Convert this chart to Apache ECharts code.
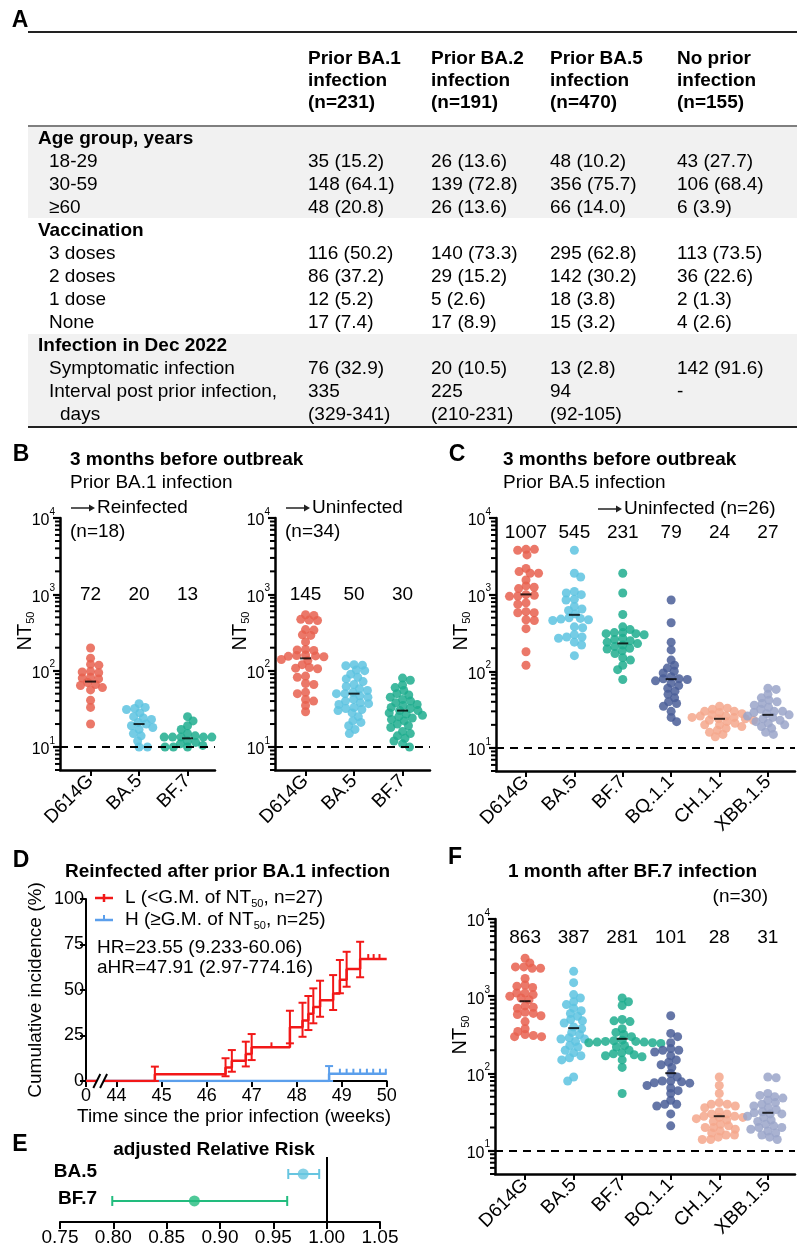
<!DOCTYPE html>
<html><head><meta charset="utf-8">
<script src="https://cdn.jsdelivr.net/npm/echarts@6/dist/echarts.min.js"></script>
<style>html,body{margin:0;padding:0;background:#fff}#c{width:797px;height:1250px}</style>
</head><body><div id="c"></div>
<script>
// ---------------- DATA ----------------
// Panel A table
const colHeads = [['Prior BA.1','infection','(n=231)'],['Prior BA.2','infection','(n=191)'],['Prior BA.5','infection','(n=470)'],['No prior','infection','(n=155)']];
const rowLabels = ['Age group, years','18-29','30-59','≥60','Vaccination','3 doses','2 doses','1 dose','None','Infection in Dec 2022','Symptomatic infection','Interval post prior infection,','days'];
const rowIndent = [0,1,1,1,0,1,1,1,1,0,1,1,2];
const colBA1 = ['','35 (15.2)','148 (64.1)','48 (20.8)','','116 (50.2)','86 (37.2)','12 (5.2)','17 (7.4)','','76 (32.9)','335','(329-341)'];
const colBA2 = ['','26 (13.6)','139 (72.8)','26 (13.6)','','140 (73.3)','29 (15.2)','5 (2.6)','17 (8.9)','','20 (10.5)','225','(210-231)'];
const colBA5 = ['','48 (10.2)','356 (75.7)','66 (14.0)','','295 (62.8)','142 (30.2)','18 (3.8)','15 (3.2)','','13 (2.8)','94','(92-105)'];
const colNone = ['','43 (27.7)','106 (68.4)','6 (3.9)','','113 (73.5)','36 (22.6)','2 (1.3)','4 (2.6)','','142 (91.6)','-',''];

// Panel B
const bCats = ['D614G','BA.5','BF.7'];
const bReD614G = [198,146,121,118,98,96,94,82,80,78,70,66,64,60,56,41,33,20];
const bReBA5 = [37,33,32,31,28,25,24,23,21,20,19,18,17,15,14,12,10,10];
const bReBF7 = [25,22,19,17,15,14,13.5,13.5,13.5,13.5,13.5,12,11.5,11,10.5,10,10,10];
const bReGM = [72,20,13];
const bUnD614G = [540,530,470,460,455,345,340,295,290,238,190,187,184,160,158,156,154,152,140,136,120,110,108,106,85,82,68,66,52,50,42,40,35,29];
const bUnBA5 = [120,118,116,102,100,90,82,78,72,66,62,58,55,52,50,50,47,45,42,40,38,37,36,33,32,31,30,28,25,22,21,19,17,15];
const bUnBF7 = [80,75,65,60,55,50,48,45,42,40,38,36,35,33,32,30,30,28,27,26,25,24,23,22,20,19,18,16,15,14,13,12,11,10];
const bUnGM = [145,50,30];

// Panel C
const cCats = ['D614G','BA.5','BF.7','BQ.1.1','CH.1.1','XBB.1.5'];
const cD614G = [3900,3900,3800,3300,2200,2000,1900,1900,1550,1300,1250,1200,1000,980,960,950,780,750,600,580,580,470,460,360,180,120];
const cBA5 = [3800,1900,1700,1100,1050,1000,870,850,700,650,620,560,500,490,480,470,460,380,370,300,280,280,270,240,220,160];
const cBF7 = [1900,1050,550,380,350,320,320,310,310,300,270,260,250,240,230,220,210,200,195,185,170,150,140,120,105,78];
const cBQ = [850,430,240,190,140,120,110,100,95,85,80,80,78,75,70,65,60,55,50,45,40,38,35,30,25,22];
const cCH = [35,33,32,30,30,29,28,27,26,26,25,25,24,24,23,23,22,21,20,20,19,18,17,16,15,14];
const cXBB = [60,58,50,45,42,40,38,36,34,32,30,30,29,28,27,26,25,24,23,22,21,20,19,18,16,15];
const cGM = [1007,545,231,79,24,27];

// Panel F
const fCats = ['D614G','BA.5','BF.7','BQ.1.1','CH.1.1','XBB.1.5'];
const fD614G = [3100,2700,2400,2400,2300,2300,1700,1400,1350,1300,1100,1100,1050,1000,950,900,750,720,700,620,600,580,560,470,380,350,320,310,300,300];
const fBA5 = [2100,1500,1050,950,850,780,700,650,600,550,500,480,450,400,380,340,320,290,280,280,260,230,220,200,185,170,160,150,90,80];
const fBF7 = [950,850,760,500,480,470,380,340,320,300,270,265,260,260,255,255,250,250,245,230,220,200,185,180,175,170,165,150,120,55];
const fBQ = [560,330,300,250,210,200,200,190,170,150,140,130,120,100,90,80,80,78,76,75,70,65,60,55,45,40,40,38,30,21];
const fCH = [90,70,55,42,40,40,38,36,32,30,30,28,28,27,27,26,25,24,22,21,20,20,19,18,17,16,16,15,14,14];
const fXBB = [90,88,55,52,50,48,45,42,40,38,36,34,32,31,30,30,28,27,25,24,22,21,20,20,19,18,17,16,15,14];
const fGM = [863,387,281,101,28,31];

// Panel D (Kaplan-Meier, weeks / %)
const kmLTime = [44.85,46.42,46.56,46.87,47.0,47.85,48.13,48.26,48.37,48.52,48.81,48.96,49.11,49.41];
const kmLPct  = [3.7,7.4,11.1,14.8,18.5,29.6,33.3,37.0,40.7,44.4,48.1,55.6,61.5,67.0];
const kmLLo   = [0,2.6,5.1,8.0,11.5,20.7,24.3,28.0,31.7,35.3,39.0,48.2,51.8,57.0];
const kmLHi   = [7.9,12.5,17.0,21.6,25.8,38.6,43.0,46.7,50.9,55.1,58.2,66.5,71.0,76.5];
const kmLCensor = [47.44,49.59,49.71,49.84];
const kmHTime = [48.72];
const kmHPct  = [4.0];
const kmHLo   = [0];
const kmHHi   = [8.2];
const kmHCensor = [48.96,49.11,49.26,49.41,49.56,49.70,49.85,49.98];
const dTicks = [43.32,44,45,46,47,48,49,50];
const dTickLabels = ['0','44','45','46','47','48','49','50'];

// Panel E (adjusted relative risk)
const rrNames = ['BA.5','BF.7'];
const rrEst = [0.978,0.876];
const rrLo = [0.964,0.799];
const rrHi = [0.993,0.963];
const rrRow = [2,1];
const eTicks = [0.75,0.80,0.85,0.90,0.95,1.00,1.05];

// ---------------- STYLE ----------------
const FONT = "'Liberation Sans', Arial, Helvetica, 'DejaVu Sans', sans-serif";
const colors6 = ['#E8604F','#5DC3E0','#1FAD8E','#4A5E98','#F5A78C','#9AA5C9'];
const redKM = '#F21818', blueKM = '#5B9FEC';
const rrColors = ['#67C5E0','#22BC7E'];

const majorTicks = [10,100,1000,10000];
const minorTicks = [];
for (let d=0; d<4; d++) for (let k=2;k<10;k++){ const v=k*Math.pow(10,d); if (v>=5 && v<10000) minorTicks.push(v); }

const chart = echarts.init(document.getElementById('c'), null, {width:797, height:1250});

const grids = [
  {left:60, top:518, width:155, height:252},
  {left:275, top:518, width:155, height:252},
  {left:496, top:518, width:299, height:253},
  {left:495, top:919, width:300, height:255},
  {left:86, top:899, width:300.7, height:182},
  {left:60, top:1157, width:320, height:65}
];
const xRange = [[0.37,3.566],[0.37,3.566],[0.38,6.56],[0.38,6.56]];

function catX(gi, cats){
  const vals = cats.map((c,i)=>i+1);
  return {type:'value', gridIndex:gi, min:xRange[gi][0], max:xRange[gi][1], splitLine:{show:false},
    axisLine:{show:true, onZero:false, lineStyle:{color:'#000', width:2.5}},
    axisTick:{show:true, customValues:vals, length:6, lineStyle:{color:'#000', width:2}},
    axisLabel:{show:true, customValues:vals, formatter:v=>cats[Math.round(v)-1]||'', rotate:45,
      fontSize:19, color:'#000', fontFamily:FONT, margin:8}};
}
function logY(gi){
  return {type:'log', logBase:10, gridIndex:gi, position:'left', min:5, max:10000, splitLine:{show:false},
    axisLine:{show:true, onZero:false, lineStyle:{color:'#000', width:2.5}},
    axisTick:{show:true, customValues:majorTicks, length:7, lineStyle:{color:'#000', width:2.2}},
    axisLabel:{show:true, customValues:majorTicks, margin:5,
      formatter:v=>'{b|10}{s|'+Math.round(Math.log10(v))+'}',
      rich:{b:{fontSize:16, lineHeight:22, fontFamily:FONT, color:'#000', verticalAlign:'bottom'},
            s:{fontSize:10, lineHeight:10, fontFamily:FONT, color:'#000', verticalAlign:'top'}}}};
}

// beeswarm layout (pixel offsets); dots may overlap a little vertically like the original
function swarm(values, pxDec){
  const Dx = 8.4, Dy = 5.6;
  const order = values.map((v,i)=>i).sort((a,b)=>values[b]-values[a]);
  const placed = [], offs = new Array(values.length).fill(0);
  let flip = 1;
  order.forEach(idx=>{
    const y = Math.log10(values[idx])*pxDec;
    const ints = [];
    placed.forEach(p=>{ const dy=Math.abs(p.y-y)/Dy; if (dy<1){ const w=Dx*Math.sqrt(1-dy*dy); ints.push([p.x-w,p.x+w]); } });
    const cands = [0]; ints.forEach(iv=>cands.push(iv[0], iv[1]));
    const ok = x=>ints.every(iv=>x<=iv[0]+1e-6 || x>=iv[1]-1e-6);
    let best = null;
    cands.filter(ok).forEach(x=>{
      if (best===null || Math.abs(x) < Math.abs(best)-1e-6 ||
          (Math.abs(Math.abs(x)-Math.abs(best))<1e-6 && x*flip>0)) best = x; });
    if (Math.abs(best)>1e-6) flip = -flip;
    offs[idx] = best; placed.push({x:best, y});
  });
  return offs;
}

function swarmSeries(gi, groups, gm, pxDec, labelVal){
  const out = [];
  groups.forEach((vals, i)=>{
    const offs = swarm(vals, pxDec);
    const s = {type:'scatter', xAxisIndex:gi, yAxisIndex:gi, symbol:'circle', symbolSize:9, silent:true, z:2,
      itemStyle:{color:colors6[i], opacity:0.85},
      data: vals.map((v,k)=>({value:[i+1, v], symbolOffset:[offs[k], 0]}))};
    if (i===0) s.markLine = {silent:true, symbol:['none','none'], label:{show:false},
      lineStyle:{type:[8,6], color:'#000', width:2}, data:[{yAxis:10}]};
    out.push(s);
  });
  out.push({type:'scatter', xAxisIndex:gi, yAxisIndex:gi, symbol:'rect', symbolSize:[11,2], silent:true, z:5,
    itemStyle:{color:'#000'}, data: gm.map((g,i)=>[i+1,g])});
  out.push({type:'custom', xAxisIndex:gi, yAxisIndex:gi, z:5, silent:true,
    data: gm.map((g,i)=>[i+1, labelVal, g]),
    renderItem:(p,api)=>{ const c = api.coord([api.value(0), api.value(1)]);
      return {type:'text', x:c[0], y:c[1], style:{text:String(api.value(2)), fontSize:19, fontFamily:FONT, fill:'#000', align:'center', verticalAlign:'middle'}}; }});
  return out;
}

function levelAt(times, pcts, t){ let l=0; times.forEach((tt,i)=>{ if (tt<=t) l=pcts[i]; }); return l; }
function kmLine(times, pcts){ const d=[[dTicks[0],0]]; times.forEach((t,i)=>d.push([t,pcts[i]])); d.push([50, pcts[pcts.length-1]]); return d; }
function vErr(color){
  return (p, api)=>{ const t=api.value(0); const a=api.coord([t,api.value(1)]), b=api.coord([t,api.value(2)]);
    const w=4, st={stroke:color, lineWidth:2};
    return {type:'group', children:[
      {type:'line', shape:{x1:a[0],y1:a[1],x2:b[0],y2:b[1]}, style:st},
      {type:'line', shape:{x1:a[0]-w,y1:a[1],x2:a[0]+w,y2:a[1]}, style:st},
      {type:'line', shape:{x1:b[0]-w,y1:b[1],x2:b[0]+w,y2:b[1]}, style:st}]}; };
}
function censor(color){
  return (p, api)=>{ const c=api.coord([api.value(0), api.value(1)]);
    return {type:'line', shape:{x1:c[0],y1:c[1],x2:c[0],y2:c[1]-5}, style:{stroke:color, lineWidth:2}}; };
}

const series = [];
series.push(...swarmSeries(0, [bReD614G,bReBA5,bReBF7], bReGM, 76.34, 1000));
series.push(...swarmSeries(1, [bUnD614G,bUnBA5,bUnBF7], bUnGM, 76.34, 1000));
series.push(...swarmSeries(2, [cD614G,cBA5,cBF7,cBQ,cCH,cXBB], cGM, 76.6, 6500));
series.push(...swarmSeries(3, [fD614G,fBA5,fBF7,fBQ,fCH,fXBB], fGM, 77.25, 5800));

// Panel D
series.push({type:'line', xAxisIndex:4, yAxisIndex:4, step:'end', showSymbol:false, silent:true, z:3,
  lineStyle:{color:blueKM, width:2.5}, data:kmLine(kmHTime, kmHPct)});
series.push({type:'custom', xAxisIndex:4, yAxisIndex:4, z:3, silent:true, encode:{x:0,y:[1,2]},
  data:kmHTime.map((t,i)=>[t,kmHLo[i],kmHHi[i]]), renderItem:vErr(blueKM)});
series.push({type:'custom', xAxisIndex:4, yAxisIndex:4, z:3, silent:true,
  data:kmHCensor.map(t=>[t, levelAt(kmHTime,kmHPct,t)]), renderItem:censor(blueKM)});
series.push({type:'line', xAxisIndex:4, yAxisIndex:4, step:'end', showSymbol:false, silent:true, z:4,
  lineStyle:{color:redKM, width:2.5}, data:kmLine(kmLTime, kmLPct)});
series.push({type:'custom', xAxisIndex:4, yAxisIndex:4, z:4, silent:true, encode:{x:0,y:[1,2]},
  data:kmLTime.map((t,i)=>[t,kmLLo[i],kmLHi[i]]), renderItem:vErr(redKM)});
series.push({type:'custom', xAxisIndex:4, yAxisIndex:4, z:4, silent:true,
  data:kmLCensor.map(t=>[t, levelAt(kmLTime,kmLPct,t)]), renderItem:censor(redKM)});
// axis break marks
series.push({type:'custom', xAxisIndex:4, yAxisIndex:4, z:20, silent:true, data:[[43.56,0],[43.71,0]],
  renderItem:(p,api)=>{ const c=api.coord([api.value(0),0]);
    if (p.dataIndex===0){ const c2=api.coord([43.71,0]);
      return {type:'group', children:[
        {type:'polygon', shape:{points:[[c[0]-3.5,c[1]+7],[c2[0]-3.5,c2[1]+7],[c2[0]+3.5,c2[1]-7],[c[0]+3.5,c[1]-7]]}, style:{fill:'#fff'}},
        {type:'line', shape:{x1:c[0]-3.5,y1:c[1]+7,x2:c[0]+3.5,y2:c[1]-7}, style:{stroke:'#000', lineWidth:2}}]}; }
    return {type:'line', shape:{x1:c[0]-3.5,y1:c[1]+7,x2:c[0]+3.5,y2:c[1]-7}, style:{stroke:'#000', lineWidth:2}}; }});

// Panel E
series.push({type:'scatter', xAxisIndex:5, yAxisIndex:5, symbolSize:0, silent:true, data:[],
  markLine:{silent:true, symbol:['none','none'], label:{show:false}, lineStyle:{type:'solid', color:'#000', width:2}, data:[{xAxis:1}]}});
rrNames.forEach((n,i)=>{
  series.push({type:'custom', xAxisIndex:5, yAxisIndex:5, z:3, silent:true, encode:{x:[0,1], y:2},
    data:[[rrLo[i], rrHi[i], rrRow[i]]],
    renderItem:(p,api)=>{ const a=api.coord([api.value(0),api.value(2)]), b=api.coord([api.value(1),api.value(2)]);
      const st={stroke:rrColors[i], lineWidth:2}, h=5;
      return {type:'group', children:[
        {type:'line', shape:{x1:a[0],y1:a[1],x2:b[0],y2:b[1]}, style:st},
        {type:'line', shape:{x1:a[0],y1:a[1]-h,x2:a[0],y2:a[1]+h}, style:st},
        {type:'line', shape:{x1:b[0],y1:b[1]-h,x2:b[0],y2:b[1]+h}, style:st}]}; }});
  series.push({type:'scatter', xAxisIndex:5, yAxisIndex:5, z:4, silent:true, symbolSize:11,
    itemStyle:{color:rrColors[i]}, data:[[rrEst[i], rrRow[i]]]});
});
series.push({type:'custom', xAxisIndex:5, yAxisIndex:5, z:4, silent:true,
  data:rrNames.map((n,i)=>[0.75, rrRow[i], i]),
  renderItem:(p,api)=>{ const c=api.coord([api.value(0),api.value(1)]);
    return {type:'text', x:c[0]+37, y:c[1]-2, style:{text:rrNames[api.value(2)], fontSize:19, fontWeight:'bold', fontFamily:FONT, fill:'#000', align:'right', verticalAlign:'middle'}}; }});

// ---------------- GRAPHIC TEXT ----------------
const G = [];
function txt(x,y,text,o={}){
  G.push({type:'text', x, y, rotation:o.rot||0, z:10, silent:true,
    style:{text, fontSize:o.size||19, fontFamily:FONT, fontWeight:o.bold?'bold':'normal', fill:'#000',
      align:o.align||'left', verticalAlign:'middle', rich:o.rich}});
}
function ln(x1,y1,x2,y2,w,c){ G.push({type:'line', silent:true, z:9, shape:{x1,y1,x2,y2}, style:{stroke:c||'#000', lineWidth:w}}); }
function arrow(x,y){ ln(x,y,x+21,y,1.5,'#222'); G.push({type:'polygon', silent:true, z:9, shape:{points:[[x+24,y],[x+18,y-3.5],[x+18,y+3.5]]}, style:{fill:'#222'}}); }
const subRich = {t:{fontSize:19, fontFamily:FONT, fill:'#000', lineHeight:22, verticalAlign:'middle'},
                 s:{fontSize:11, fontFamily:FONT, fill:'#000', lineHeight:12, padding:[16,0,0,0], verticalAlign:'bottom'}};
const ntRich = {t:{fontSize:20, fontFamily:FONT, fill:'#000', lineHeight:22, verticalAlign:'middle'},
                s:{fontSize:11, fontFamily:FONT, fill:'#000', lineHeight:12, padding:[16,0,0,0], verticalAlign:'bottom'}};

// Table
G.push({type:'rect', silent:true, z:1, shape:{x:28, y:127, width:769, height:91}, style:{fill:'#F1F1F1'}});
G.push({type:'rect', silent:true, z:1, shape:{x:28, y:334, width:769, height:92}, style:{fill:'#F1F1F1'}});
ln(28,32,797,32,2,'#222'); ln(28,126,797,126,1.5,'#555'); ln(28,427,797,427,2,'#222');
const colX = [308,431,550,677];
colHeads.forEach((h,ci)=>h.forEach((s,li)=>txt(colX[ci], 59+22*li, s, {bold:true})));
const cols = [colBA1, colBA2, colBA5, colNone];
rowLabels.forEach((r,i)=>{
  const y = 139 + 23*i;
  txt([38,49,60][rowIndent[i]], y, r, {bold:rowIndent[i]===0});
  cols.forEach((c,ci)=>{ if (c[i]) txt(colX[ci], y, c[i]); });
});
txt(20,21,'A',{bold:true,size:23,align:'center'});

// Panel letters & titles
txt(21,455,'B',{bold:true,size:23,align:'center'});
txt(457,455,'C',{bold:true,size:23,align:'center'});
txt(21,861,'D',{bold:true,size:23,align:'center'});
txt(20,1145,'E',{bold:true,size:23,align:'center'});
txt(455,858,'F',{bold:true,size:23,align:'center'});
txt(70,460,'3 months before outbreak',{bold:true});
txt(70,483,'Prior BA.1 infection');
arrow(71,508); txt(97,508,'Reinfected');
txt(70,532,'(n=18)');
arrow(286,508); txt(312,508,'Uninfected');
txt(285,532,'(n=34)');
txt(503,460,'3 months before outbreak',{bold:true});
txt(503,483,'Prior BA.5 infection');
arrow(598,509); txt(624,509,'Uninfected (n=26)');
txt(508,872,'1 month after BF.7 infection',{bold:true});
txt(768,897,'(n=30)',{align:'right'});
txt(65,872,'Reinfected after prior BA.1 infection',{bold:true});
txt(214,1150,'adjusted Relative Risk',{bold:true,align:'center'});
// NT50 labels
[[25,631],[240,631],[461,631],[460,1035]].forEach(p=>txt(p[0],p[1],'{t|NT}{s|50}',{rot:Math.PI/2,align:'center',rich:ntRich}));
// Panel D labels & legend
txt(36,990,'Cumulative incidence (%)',{rot:Math.PI/2,align:'center'});
txt(77,1117,'Time since the prior infection (weeks)');
ln(95,898,113,898,2.5,redKM); ln(104,894,104,902,2.5,redKM);
ln(95,920,113,920,2.5,blueKM); ln(104,915,104,920,2,blueKM);
txt(125,898,'{t|L (<G.M. of NT}{s|50}{t|, n=27)}',{rich:subRich});
txt(125,920,'{t|H (≥G.M. of NT}{s|50}{t|, n=25)}',{rich:subRich});
txt(97,948,'HR=23.55 (9.233-60.06)');
txt(97,968,'aHR=47.91 (2.97-774.16)');

const yAxes = [logY(0), logY(1), logY(2), logY(3),
  {type:'value', gridIndex:4, min:0, max:100, interval:25, splitLine:{show:false},
    axisLine:{show:true, lineStyle:{color:'#000', width:2}}, axisTick:{show:true, length:6, lineStyle:{color:'#000', width:2}},
    axisLabel:{fontSize:18, color:'#000', fontFamily:FONT, margin:2}},
  {type:'value', gridIndex:5, min:0.22, max:2.63, show:false}];
const xAxes = [catX(0,bCats), catX(1,bCats), catX(2,cCats), catX(3,fCats),
  {type:'value', gridIndex:4, min:dTicks[0], max:50, splitLine:{show:false},
    axisLine:{show:true, onZero:false, lineStyle:{color:'#000', width:2}},
    axisTick:{show:true, customValues:dTicks, length:6, lineStyle:{color:'#000', width:2}},
    axisLabel:{customValues:dTicks, formatter:v=>dTickLabels[dTicks.indexOf(v)] ?? '', fontSize:18, color:'#000', fontFamily:FONT, margin:6}},
  {type:'value', gridIndex:5, min:0.75, max:1.05, splitLine:{show:false},
    axisLine:{show:true, onZero:false, lineStyle:{color:'#000', width:2}},
    axisTick:{show:true, customValues:eTicks, length:7, lineStyle:{color:'#000', width:2}},
    axisLabel:{customValues:eTicks, formatter:v=>v.toFixed(2), fontSize:19, color:'#000', fontFamily:FONT, margin:6}}];

chart.setOption({animation:false, backgroundColor:'#fff', grid:grids, xAxis:xAxes, yAxis:yAxes, series});

// minor log ticks, positioned through each grid's own scales
[0,1,2,3].forEach(gi=>{
  minorTicks.forEach(v=>{
    const c = chart.convertToPixel({gridIndex:gi}, [xRange[gi][0], v]);
    if (c && isFinite(c[0]) && isFinite(c[1])) ln(c[0]-5, c[1], c[0]+0.5, c[1], 2, '#000');
  });
});
chart.setOption({graphic:{elements:G}});
</script></body></html>
